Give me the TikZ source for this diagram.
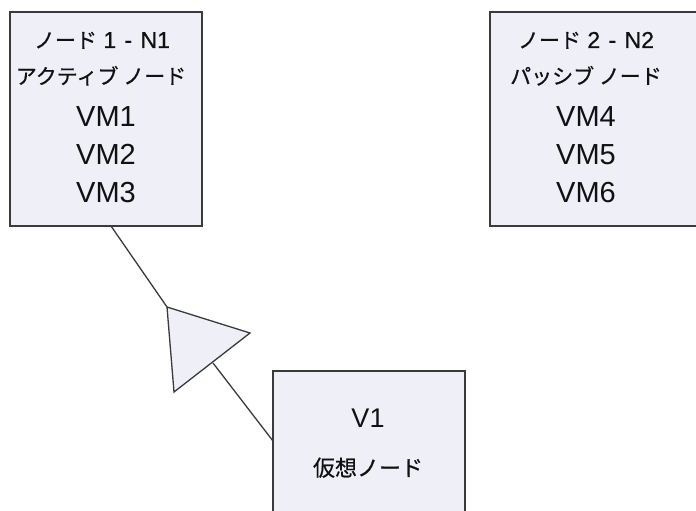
\documentclass[tikz,border=0pt]{standalone}
\usepackage{fontspec}
\setmainfont{Liberation Sans}
\newfontfamily\cjk[FakeBold=0.6]{Noto Sans CJK JP}
\newfontfamily\latinb[FakeBold=0.6]{Liberation Sans}
\definecolor{boxfill}{HTML}{EEEFF7}
\definecolor{boxline}{HTML}{3A3A3A}
\definecolor{txt}{HTML}{111111}
\tikzset{
  nodebox/.style={draw=boxline, line width=2pt, fill=boxfill},
  vmtext/.style={anchor=base, inner sep=0pt, text=txt, font=\fontsize{29}{29}\selectfont},
  jptext/.style={anchor=base, inner sep=0pt, text=txt, font=\cjk\fontsize{21}{21}\selectfont},
  conn/.style={draw=boxline, line width=1.3pt},
}
\begin{document}
\begin{tikzpicture}[x=1pt,y=-1pt]
\clip (0,0) rectangle (696,511);
\fill[white] (0,0) rectangle (696,511);
% boxes
\path[nodebox] (10,12) rectangle (202,226);
\node[coordinate] (n1s) at (111,226) {};
\path[nodebox] (490,12) rectangle (720,226);
\path[nodebox] (273,371) rectangle (465,560);
\node[coordinate] (v1w) at (273,441) {};
% box 1 texts
\node[jptext] (t11) at (102,48) {ノード\latinb\fontsize{23}{23}\selectfont{} 1\hspace{2pt} -\hspace{2pt} N1};
\node[jptext] (t12) at (101,84) {アクティブ ノード};
\node[vmtext] (vm1) at (106,126) {VM1};
\node[vmtext] (vm2) at (106,164) {VM2};
\node[vmtext] (vm3) at (106,202) {VM3};
% box 2 texts
\node[jptext] (t21) at (586,48) {ノード\latinb\fontsize{23}{23}\selectfont{} 2\hspace{2pt} -\hspace{2pt} N2};
\node[jptext] (t22) at (586,84) {パッシブ ノード};
\node[vmtext] (vm4) at (586,126) {VM4};
\node[vmtext] (vm5) at (586,164) {VM5};
\node[vmtext] (vm6) at (586,202) {VM6};
% virtual node texts
\node[vmtext, font=\fontsize{27}{27}\selectfont] (v1) at (368,427) {V1};
\node[jptext, font=\cjk\fontsize{22}{22}\selectfont] (v1j) at (368,476) {仮想ノード};
% generalization triangle
\coordinate (ta) at (167,307);
\coordinate (tb) at (250,333);
\coordinate (tc) at (174,392);
\coordinate (tm) at (213,363);
\draw[conn] (n1s) -- (ta);
\draw[conn] (tm) -- (v1w);
\draw[conn, fill=boxfill, line join=miter] (ta) -- (tb) -- (tc) -- cycle;
\end{tikzpicture}
\end{document}
